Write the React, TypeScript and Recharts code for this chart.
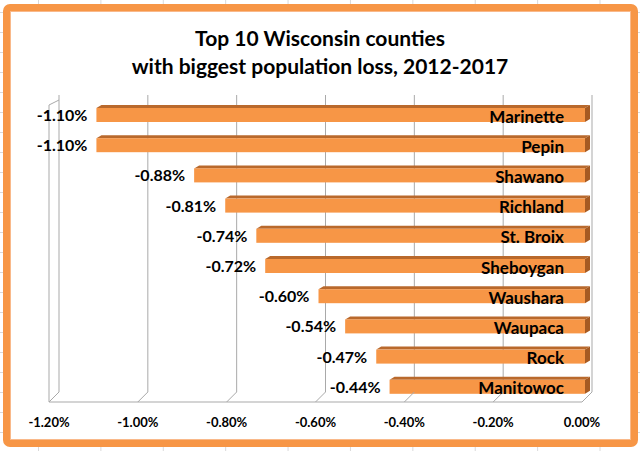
import { BarChart, Bar, XAxis, YAxis, CartesianGrid, LabelList } from 'recharts';

const COUNTIES = ['Marinette', 'Pepin', 'Shawano', 'Richland', 'St. Broix', 'Sheboygan', 'Waushara', 'Waupaca', 'Rock', 'Manitowoc'];
const LOSS = [-1.1, -1.1, -0.88, -0.81, -0.74, -0.72, -0.6, -0.54, -0.47, -0.44];
const X_TICKS = [-1.2, -1.0, -0.8, -0.6, -0.4, -0.2, 0];
const X_DOMAIN = [-1.2, 0];
const TITLE = ['Top 10 Wisconsin counties', 'with biggest population loss, 2012-2017'];

const data = COUNTIES.map((county, i) => ({ county, loss: LOSS[i] }));

const W = 640;
const H = 451;
const MARGIN = { top: 100, right: 58, bottom: 19, left: 49 };
const AXIS_H = 30;
const PLOT_H = H - MARGIN.top - MARGIN.bottom - AXIS_H;
const BAND = PLOT_H / COUNTIES.length;

// fake 3d depth: walls and bars
const DEPTH_X = 10;
const DEPTH_Y = 10;
const BAR_DX = 5;
const BAR_DY = 3;
const BAR_SHIFT = 3;

const ORANGE = '#F79646';
const GRID = '#a9a9a9';
const FONT = 'Lato, "Open Sans", sans-serif';

const fmt = (v: number) => `${v.toFixed(2)}%`;

function box(p: any) {
  const b = p.viewBox && typeof p.viewBox.width === 'number' ? p.viewBox : p;
  const x = Number(b.x);
  const y = Number(b.y);
  const w = Number(b.width);
  const h = Number(b.height);
  return { left: Math.min(x, x + w), right: Math.max(x, x + w), top: Math.min(y, y + h), h: Math.abs(h) };
}

function Bar3D(props: any) {
  const { left, right, top, h } = box(props);
  if (!(right > left)) return null;
  const l = left + BAR_SHIFT;
  const r = right + BAR_SHIFT;
  return (
    <g>
      <polygon
        points={`${l},${top} ${l + BAR_DX},${top - BAR_DY} ${r + BAR_DX},${top - BAR_DY} ${r},${top}`}
        fill="#b9692c"
      />
      <polygon
        points={`${r},${top} ${r + BAR_DX},${top - BAR_DY} ${r + BAR_DX},${top + h - BAR_DY} ${r},${top + h}`}
        fill="#a65a22"
      />
      <rect x={l} y={top} width={r - l} height={h} fill={ORANGE} />
    </g>
  );
}

function ValueLabel(props: any) {
  const { left, top, h } = box(props);
  return (
    <text x={left + BAR_SHIFT - 9} y={top + h / 2} dy="0.38em" textAnchor="end"
      fontFamily={FONT} fontWeight="bold" fontSize={16} fill="#000">
      {fmt(Number(props.value))}
    </text>
  );
}

function NameLabel(props: any) {
  const { right, top, h } = box(props);
  return (
    <text x={right - 18} y={top + h / 2} dy="0.45em" textAnchor="end"
      fontFamily={FONT} fontWeight="bold" fontSize={17} fill="#000">
      {props.value}
    </text>
  );
}

function FloorTick(props: any) {
  const { x, y, payload, index } = props;
  return (
    <g>
      <line x1={x} y1={y} x2={x + DEPTH_X} y2={y - DEPTH_Y} stroke={GRID} />
      {index === 0 && (
        <polyline
          points={`${x},${y} ${x},${y - PLOT_H + 5} ${x + DEPTH_X},${y - PLOT_H}`}
          fill="none" stroke={GRID}
        />
      )}
      <text x={x} y={y + 25} textAnchor="middle" fontFamily={FONT} fontWeight="bold" fontSize={13} fill="#000">
        {fmt(Number(payload.value))}
      </text>
    </g>
  );
}

function BoundaryTick(props: any) {
  const { x, y, index } = props;
  const y0 = y - BAND / 2;
  return (
    <g stroke={GRID}>
      <line x1={x - 5} y1={y0} x2={x} y2={y0} />
      {index === COUNTIES.length - 1 && <line x1={x - 5} y1={y + BAND / 2} x2={x} y2={y + BAND / 2} />}
    </g>
  );
}

// back wall gridlines, pushed back by the wall depth
function backWall({ offset }: any) {
  const [lo, hi] = X_DOMAIN;
  return X_TICKS.map((t) => offset.left + ((t - lo) / (hi - lo)) * offset.width + DEPTH_X);
}

export default function App() {
  return (
    <div style={{ position: 'absolute', left: 0, top: 0, width: W, height: H, overflow: 'hidden',
      backgroundColor: '#fff',
      backgroundImage: 'linear-gradient(to right, #d9d9d9 1px, transparent 1px), linear-gradient(to bottom, #d9d9d9 1px, transparent 1px)',
      backgroundSize: '62.4px 100%, 100% 20px',
      backgroundPosition: '38px 0, 0 12px' }}>
      <div style={{ position: 'absolute', left: 3, top: 4, width: 635, height: 443, boxSizing: 'border-box',
        border: `7px solid ${ORANGE}`, borderRadius: 7, background: '#fff',
        boxShadow: 'inset 0 0 0 1px #f9b98a' }} />
      <div style={{ position: 'absolute', left: 0, top: 24, width: W, textAlign: 'center',
        fontFamily: FONT, fontWeight: 'bold', fontSize: 21, lineHeight: '28px', color: '#000' }}>
        {TITLE.map((line) => <div key={line}>{line}</div>)}
      </div>
      <div style={{ position: 'absolute', left: 0, top: 0 }}>
        <BarChart width={W} height={H} data={data} layout="vertical" margin={MARGIN} barSize={14}>
          <CartesianGrid horizontal={false} verticalCoordinatesGenerator={backWall}
            y={MARGIN.top - 5} height={PLOT_H - 5} stroke={GRID} />
          <XAxis type="number" domain={X_DOMAIN} ticks={X_TICKS} height={AXIS_H}
            tickSize={0} tickMargin={0} axisLine={{ stroke: GRID }} tickLine={false} tick={<FloorTick />} />
          <YAxis yAxisId="left" type="category" dataKey="county" width={0}
            axisLine={{ stroke: GRID }} tickLine={false} tick={false} />
          <YAxis yAxisId="right" orientation="right" type="category" dataKey="county" width={0}
            tickSize={0} tickMargin={0} axisLine={{ stroke: GRID }} tickLine={false} tick={<BoundaryTick />} />
          <Bar yAxisId="left" dataKey="loss" shape={<Bar3D />} isAnimationActive={false}>
            <LabelList dataKey="loss" content={<ValueLabel />} />
            <LabelList dataKey="county" content={<NameLabel />} />
          </Bar>
        </BarChart>
      </div>
    </div>
  );
}
